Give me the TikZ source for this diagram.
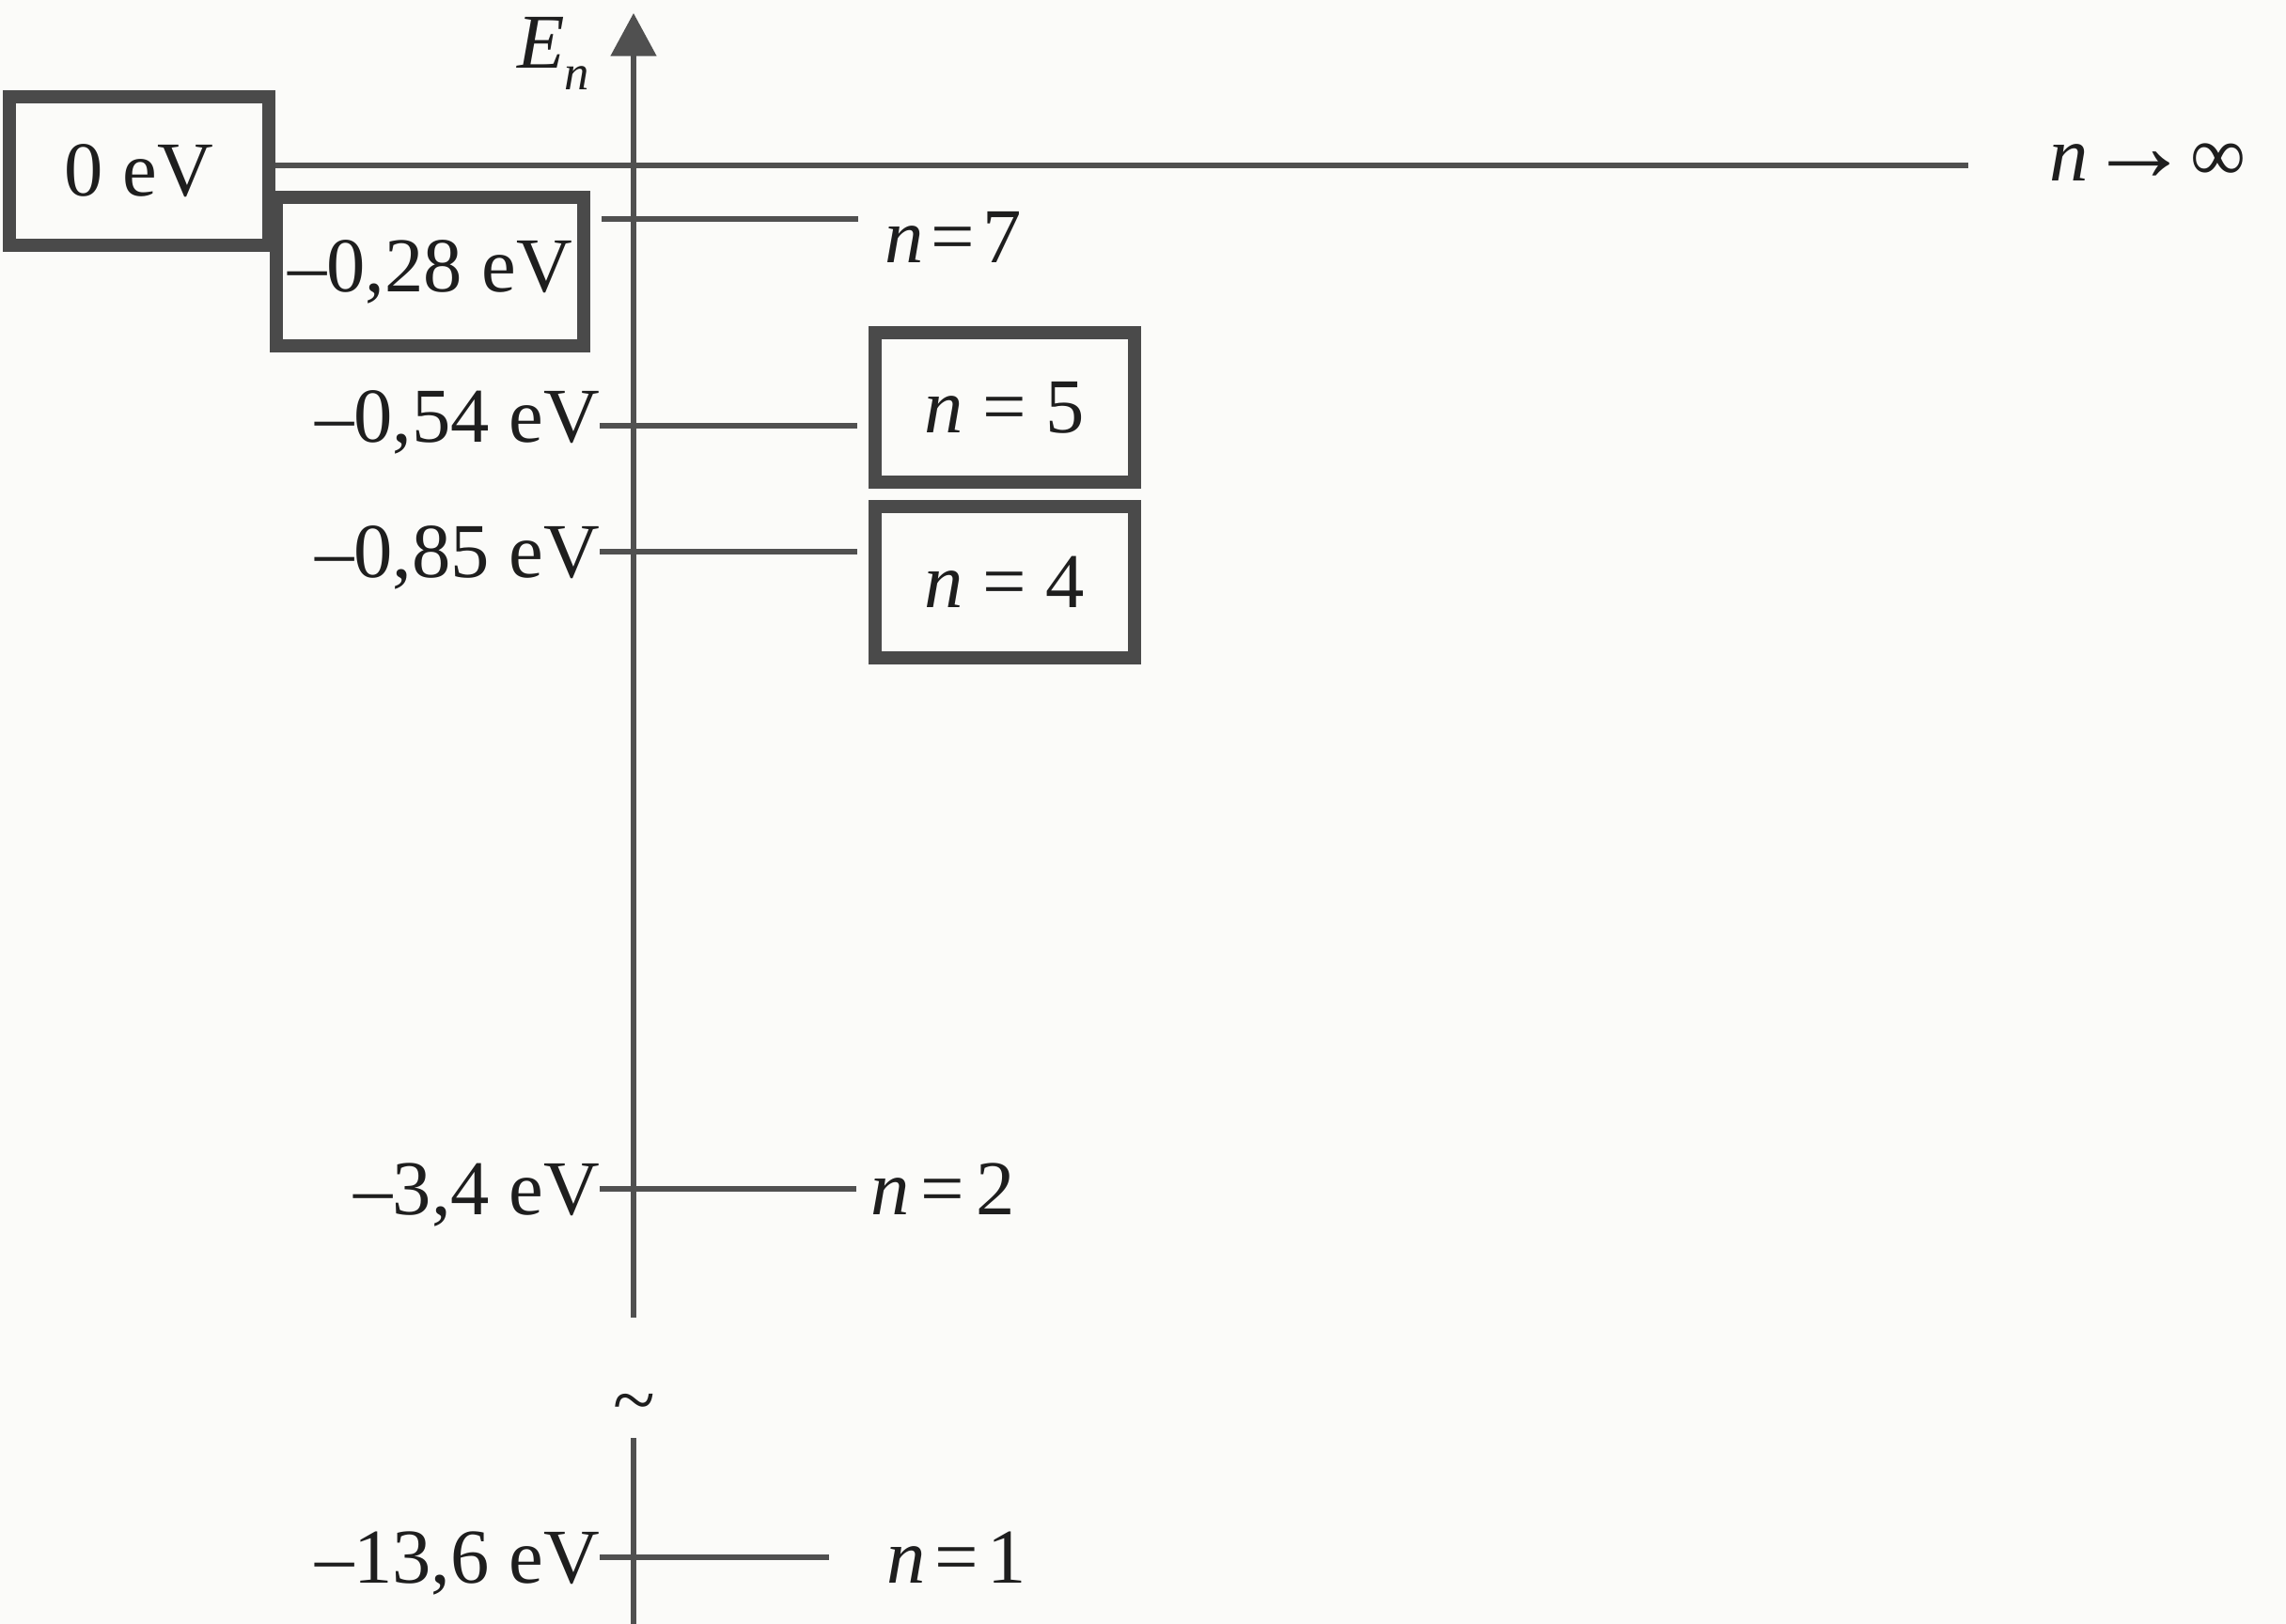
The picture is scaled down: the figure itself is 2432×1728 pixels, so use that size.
\documentclass[tikz,border=0pt]{standalone}
\usepackage{fontspec}
\setmainfont{Liberation Serif}
\usetikzlibrary{arrows.meta}
\definecolor{txt}{HTML}{1E1E1E}
\definecolor{linegray}{HTML}{505050}
\definecolor{boxgray}{HTML}{4A4A4A}
\definecolor{bg}{HTML}{FBFBF9}
\begin{document}
\begin{tikzpicture}[x=0.01cm,y=-0.01cm,
  lvl/.style={draw=linegray, line width=1.7pt},
  axisline/.style={draw=linegray, line width=1.6pt},
  lbl/.style={inner sep=0pt, outer sep=0pt, font=\fontsize{23.5}{28}\selectfont, text=txt},
  boxed/.style={draw=boxgray, line width=4pt, inner sep=0pt, font=\fontsize{23.5}{28}\selectfont, text=txt},
]
\fill[bg] (0,0) rectangle (2432,1728);
\useasboundingbox (0,0) rectangle (2432,1728);

% axis
\coordinate (axtop) at (674,14);
\coordinate (axbrk) at (674,1402);
\coordinate (axres) at (674,1530);
\coordinate (axbot) at (674,1728);
\draw[axisline, -{Triangle[length=13pt,width=13.6pt]}] (axbrk) -- (axtop);
\draw[axisline] (axres) -- (axbot);
\node[lbl] (brk) at (675,1500) {\~{}};
\node[lbl, anchor=base west] (En) at (550,73) {\textit{E}\raisebox{-6.5pt}{\fontsize{15}{15}\selectfont\textit{n}}};

% boxes
\node[boxed, minimum width=2.76cm, minimum height=1.58cm] (b0) at (148,182) {0 eV};
\node[boxed, minimum width=3.27cm, minimum height=1.58cm] (b28) at (457.5,289) {–0,28 eV};
\node[boxed, minimum width=2.76cm, minimum height=1.59cm] (b5) at (1069,433.5) {\textit{n} = 5};
\node[boxed, minimum width=2.76cm, minimum height=1.61cm] (b4) at (1069,619.5) {\textit{n} = 4};

% n -> infinity level
\coordinate (inf) at (2094,176);
\draw[lvl] (b0.east |- inf) -- (inf);
\node[lbl, anchor=base west] (ninf) at (2180,193) {\textit{n}{\fontsize{31}{31}\selectfont\bfseries →}∞};

% n = 7
\coordinate (n7a) at (640,233);
\coordinate (n7b) at (913,233);
\draw[lvl] (n7a) -- (n7b);
\node[lbl, anchor=base west] (t7) at (941,280) {\textit{n}\hspace{0.1em}=\hspace{0.1em}7};

% n = 5
\node[lbl, anchor=base east] (l54) at (638,471) {–0,54 eV};
\coordinate (e54) at (912,453);
\draw[lvl] (l54.east |- e54) -- (e54);

% n = 4
\node[lbl, anchor=base east] (l85) at (638,615) {–0,85 eV};
\coordinate (e85) at (912,587);
\draw[lvl] (l85.east |- e85) -- (e85);

% n = 2
\node[lbl, anchor=base east] (l34) at (638,1292) {–3,4 eV};
\coordinate (e34) at (911,1265);
\draw[lvl] (l34.east |- e34) -- (e34);
\node[lbl, anchor=base west] (t2) at (926,1292) {\textit{n}\hspace{0.15em}=\hspace{0.15em}2};

% n = 1
\node[lbl, anchor=base east] (l136) at (638,1684) {–13,6 eV};
\coordinate (e136) at (882,1657);
\draw[lvl] (l136.east |- e136) -- (e136);
\node[lbl, anchor=base west] (t1) at (943,1684) {\textit{n}\hspace{0.12em}=\hspace{0.12em}1};
\end{tikzpicture}
\end{document}
